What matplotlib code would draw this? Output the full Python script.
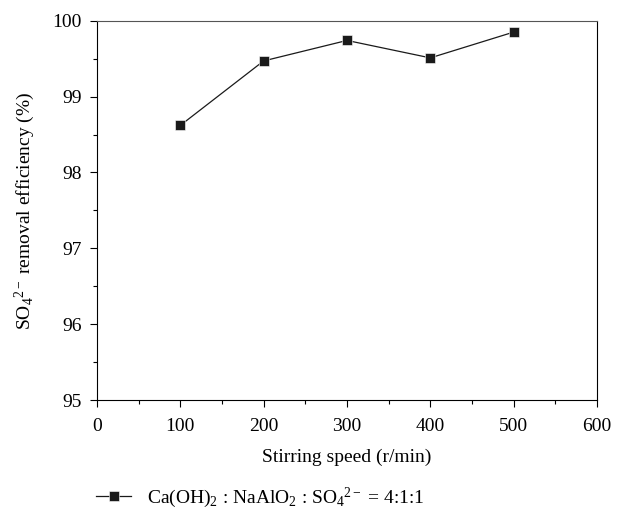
import matplotlib
matplotlib.use('Agg')
import matplotlib.pyplot as plt
from matplotlib.ticker import MultipleLocator

plt.rcParams['font.family'] = ['Liberation Serif', 'DejaVu Serif']
plt.rcParams['mathtext.fontset'] = 'custom'
plt.rcParams['mathtext.rm'] = 'Liberation Serif'
plt.rcParams['mathtext.it'] = 'Liberation Serif:italic'

# data
speed = [100, 200, 300, 400, 500]
removal = [98.62, 99.47, 99.74, 99.51, 99.85]
label = r'Ca(OH)$_2$ : NaAlO$_2$ : SO$_4$$^{2-}$ = 4:1:1'

fig = plt.figure(figsize=(6.24, 5.09), dpi=100)
ax = fig.add_axes([0.1554, 0.2141, 0.8013, 0.7452])

ax.plot(speed, removal, '-s', color='#1a1a1a', lw=0.9, ms=7.4,
        markeredgecolor='white', markeredgewidth=0.4, label=label)

ax.set_xlim(0, 600)
ax.set_ylim(95, 100)
ax.xaxis.set_major_locator(MultipleLocator(100))
ax.xaxis.set_minor_locator(MultipleLocator(50))
ax.yaxis.set_major_locator(MultipleLocator(1))
ax.yaxis.set_minor_locator(MultipleLocator(0.5))
ax.tick_params(which='both', direction='out', top=False, right=False, labelsize=14, width=0.8)
ax.tick_params(which='major', length=5)
ax.tick_params(which='minor', length=3)
ax.tick_params(axis='x', pad=8)
ax.tick_params(axis='y', pad=6)
for s in ax.spines.values():
    s.set_linewidth(0.8)
ax.spines['top'].set_color('#555555')

ax.set_xlabel('Stirring speed (r/min)', fontsize=14, labelpad=10)
ax.set_ylabel(r'SO$_4$$^{2-}$ removal efficiency (%)', fontsize=14, labelpad=11)

fig.legend(loc='center left', bbox_to_anchor=(0.126, 0.022), frameon=False,
           fontsize=14, handlelength=1.8, handletextpad=0.8)

fig.savefig('out.png', dpi=100)
